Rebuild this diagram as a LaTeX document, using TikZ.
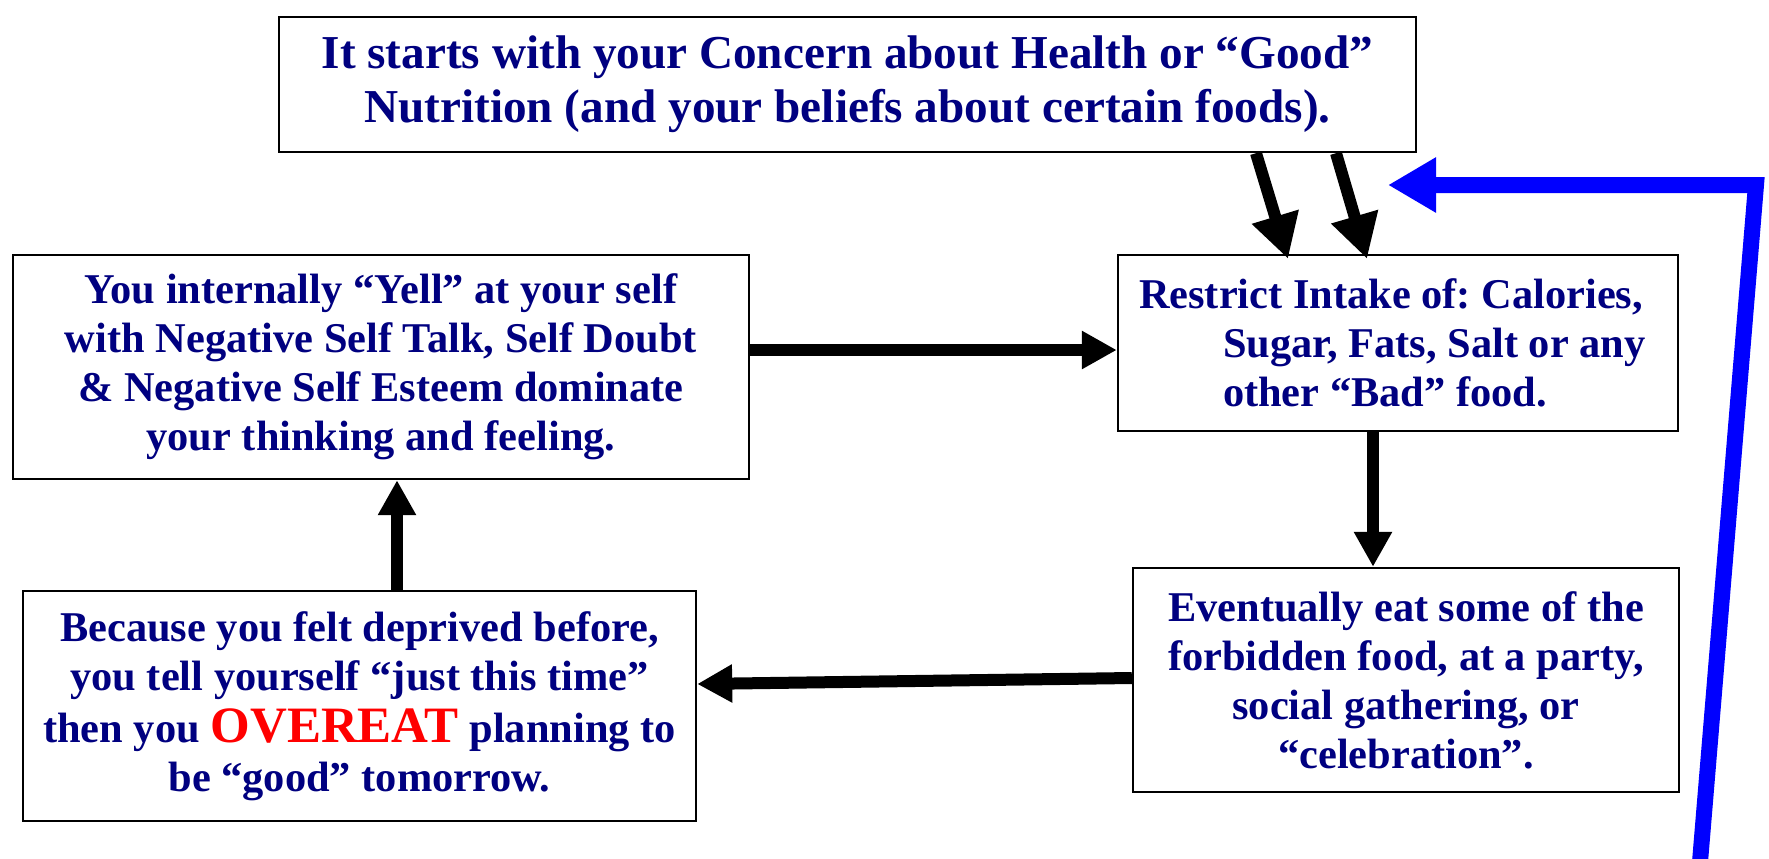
\documentclass[tikz,border=0pt]{standalone}
\usepackage{fontspec}
\setmainfont{Liberation Serif}
\frenchspacing
\usetikzlibrary{arrows.meta,calc}
\definecolor{navy}{RGB}{0,0,128}
\definecolor{bluearrow}{RGB}{0,0,255}
\definecolor{redtext}{RGB}{255,0,0}
\tikzset{
  box/.style={draw=black, line width=1.2pt, fill=white, inner sep=0pt, align=center,
    text=navy, font=\fontsize{21.2}{24.5}\selectfont\bfseries},
  flow/.style={line width=6pt, -{Triangle[length=17.5pt,width=18pt]}},
  flowdiag/.style={line width=6pt, -{Triangle[length=22pt,width=23pt]}},
  back/.style={draw=bluearrow, line width=8pt, line join=miter, -{Triangle[length=24pt,width=26pt]}}
}
\begin{document}
\begin{tikzpicture}[x=0.5pt,y=-0.5pt]
\useasboundingbox (0,0) rectangle (1769,858);

\node[box, minimum width=568.5pt, minimum height=67.5pt,
  font=\fontsize{23.6}{27}\selectfont\bfseries] (top) at (847.5,84.5)
  {It starts with your Concern about Health or “Good”\\Nutrition (and your beliefs about certain foods).};

\node[box, minimum width=368pt, minimum height=112pt] (yell) at (381,367)
  {You internally “Yell” at your self\\with Negative Self Talk, Self Doubt\\\& Negative Self Esteem dominate\\your thinking and feeling.};

\node[box, align=left, minimum width=280pt, minimum height=88pt] (restrict) at (1398,343)
  {Restrict Intake of: Calories,\hspace*{7pt}\\\hspace*{42pt}Sugar, Fats, Salt or any\\\hspace*{42pt}other “Bad” food.};

\node[box, minimum width=336.5pt, minimum height=115pt] (bec) at (359.5,706)
  {Because you felt deprived before,\\you tell yourself “just this time”\\[1.5pt]then you {\color{redtext}\fontsize{25.5}{28}\selectfont OVEREAT} planning to\\be “good” tomorrow.};

\node[box, minimum width=273pt, minimum height=112pt] (ev) at (1406,680)
  {Eventually eat some of the\\forbidden food, at a party,\\social gathering, or\\“celebration”.};

\coordinate (b0) at (1700,862);
\coordinate (b1) at (1756,185);
\coordinate (btip) at (1388,185);

\draw[flowdiag] ([xshift=204.25pt]top.south) -- ([xshift=-55pt,yshift=-2.5pt]restrict.north);
\draw[flowdiag] ([xshift=244.25pt]top.south) -- ([xshift=-15.5pt,yshift=-2.5pt]restrict.north);
\draw[flow] ([yshift=8.5pt]yell.east) -- ([yshift=8.5pt]yell.east -| restrict.west);
\draw[flow] ([xshift=-12.5pt]restrict.south) -- ([xshift=-12.5pt]restrict.south |- ev.north);
\draw[flow] ([yshift=1pt]ev.west) -- ([yshift=11pt]bec.east);
\draw[flow] ([xshift=18.75pt]bec.north) -- ([xshift=18.75pt]bec.north |- yell.south);
\draw[back] (b0) -- (b1) -- (btip);
\end{tikzpicture}
\end{document}
